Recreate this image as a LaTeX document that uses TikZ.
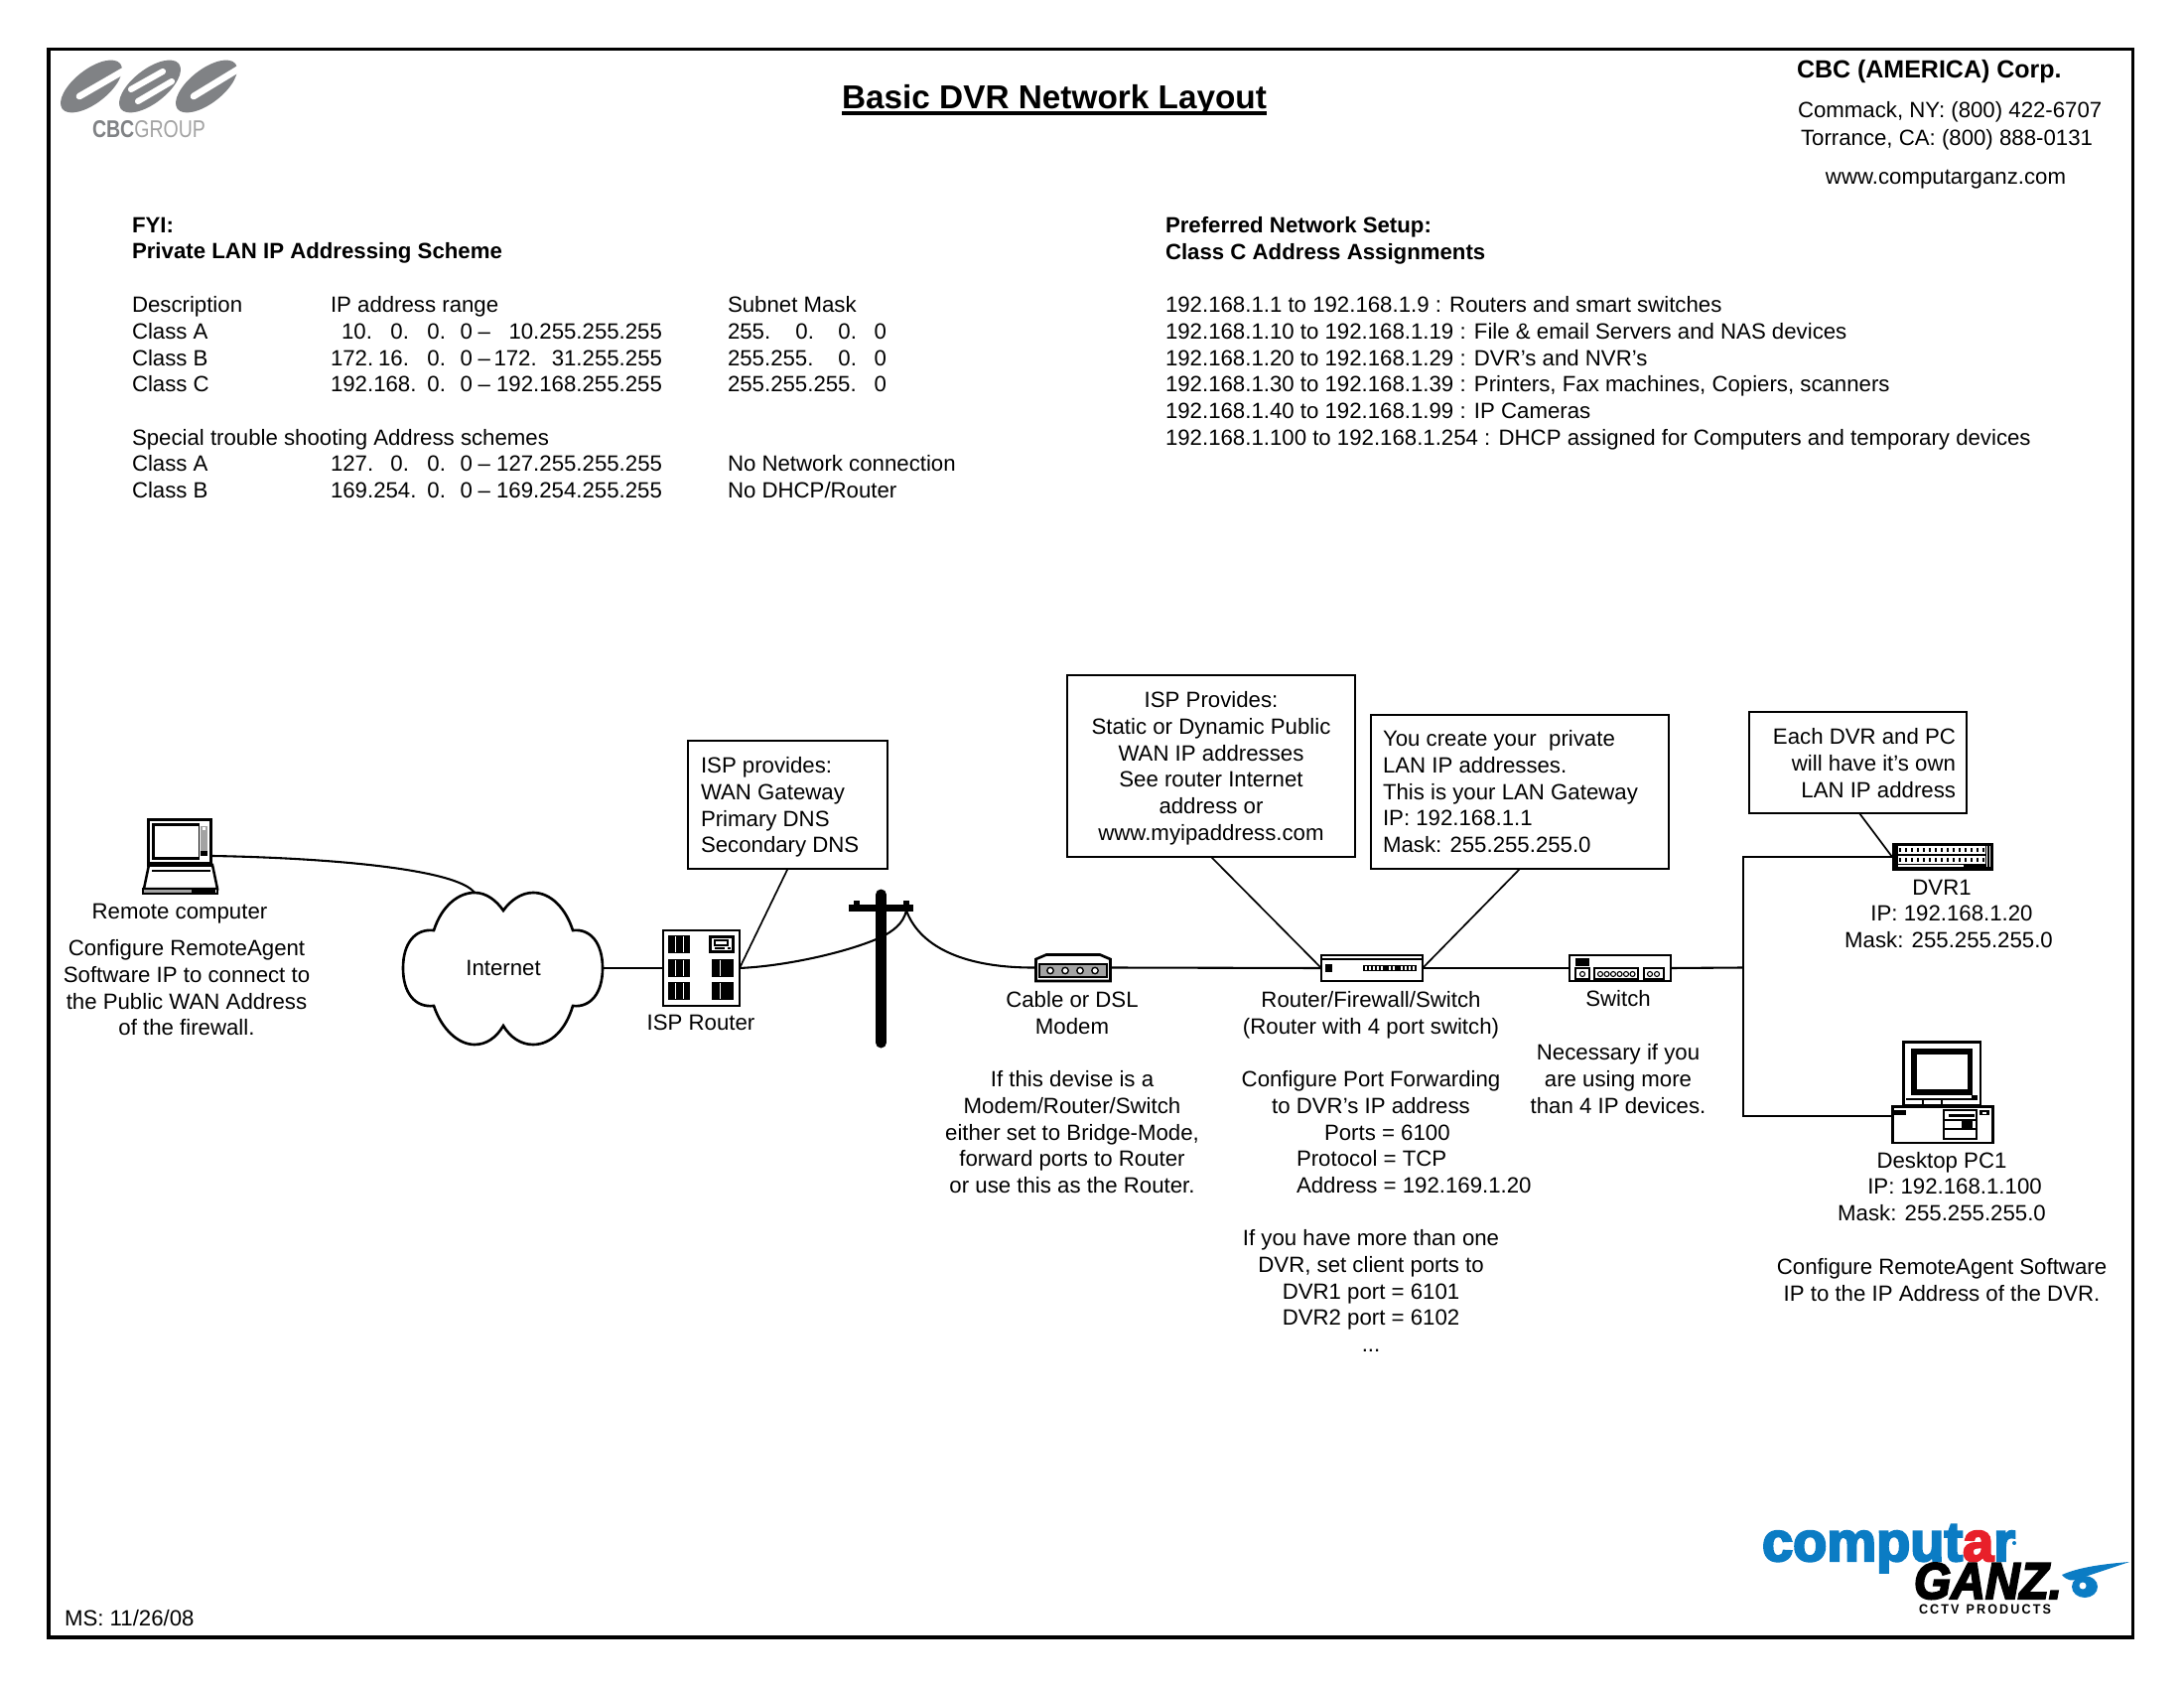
\documentclass[tikz,border=0pt]{standalone}
\usepackage{fontspec}
\usepackage{graphicx}
\setmainfont{Liberation Sans}
\newfontfamily\heavyfont[FakeBold=4]{Liberation Sans Bold}
\newfontfamily\heavyital[FakeBold=4]{Liberation Sans Bold Italic}
\newlength\pxu \setlength\pxu{0.36pt}
\newcommand\seg[2]{\makebox[#1\pxu][r]{#2}}
\newcommand\sgl[2]{\makebox[#1\pxu][l]{#2}}
\newcommand\iconbox[5]{\node[hit,minimum width=#4\pxu,minimum height=#5\pxu] (#1) at (#2,#3) {};}
\definecolor{cbcdark}{HTML}{808285}
\definecolor{cbclight}{HTML}{A3A3A3}
\definecolor{compblue}{HTML}{0B7CC4}
\definecolor{compred}{HTML}{E8202A}
\tikzset{
 x=0.36pt,y=-0.36pt,
 base font/.style={font=\fontsize{8}{9.6}\selectfont},
 tx/.style={base font,inner sep=0pt,outer sep=0pt,text=black},
 mlc/.style={tx,anchor=north,align=center,yshift=5.1pt,execute at begin node={\rule{0pt}{7pt}}},
 mll/.style={tx,anchor=north west,align=left,yshift=5.1pt,execute at begin node={\rule{0pt}{7pt}}},
 mlr/.style={tx,anchor=north east,align=right,yshift=5.1pt,execute at begin node={\rule{0pt}{7pt}}},
 smlc/.style={tx,anchor=base},
 smll/.style={tx,anchor=base west},
 hit/.style={inner sep=0pt,outer sep=0pt,rectangle},
 frameline/.style={line width=1.35pt,draw=black},
 callout/.style={line width=0.6pt,draw=black,fill=white},
 leader/.style={line width=0.6pt,draw=black},
 wire/.style={line width=0.75pt,draw=black},
 thick icon/.style={line width=0.95pt,draw=black,fill=white},
}
\begin{document}
\begin{tikzpicture}
\useasboundingbox (0,0) rectangle (2200,1700);
\fill[white] (0,0) rectangle (2200,1700);
\draw[frameline] (49,49.5) rectangle (2148.5,1649);

% CBC logo
\begin{scope}
\fill[cbcdark] (92,87) circle[x radius=37,y radius=17,rotate=38];
\fill[cbcdark] (151,87) circle[x radius=37,y radius=17,rotate=38];
\fill[cbcdark] (208,87) circle[x radius=37,y radius=17,rotate=38];
\draw[white,line width=2.4pt,line cap=round] (80,97) -- (125,71);
\draw[white,line width=2.2pt,line cap=round] (132,90) -- (164,72);
\draw[white,line width=2.2pt,line cap=round] (139,102) -- (173,82);
\draw[white,line width=2.4pt,line cap=round] (195,97) -- (241,69);
\end{scope}
\node[hit,anchor=base west] (cbcgroup) at (93,139) {\resizebox{114\pxu}{17\pxu}{\textbf{\textcolor{cbcdark}{CBC}}\textcolor{cbclight}{GROUP}}};

% Title and address
\node[hit,anchor=base,font=\fontsize{12}{14}\selectfont\bfseries] (title) at (1062,110) {Basic DVR Network Layout};
\draw[line width=1.44pt] (title.west |- 0,114) -- (title.east |- 0,114);
\node[hit,anchor=base west,font=\fontsize{9}{11}\selectfont\bfseries] (corp) at (1810,78.5) {CBC (AMERICA) Corp.};
\node[smll] (comm) at (1811,118.5) {Commack, NY: (800) 422-6707};
\node[smll] (torr) at (1814,146.5) {Torrance, CA: (800) 888-0131};
\node[smlc] (www) at (1960,185.5) {www.computarganz.com};

% Left table
\node[mll,font=\fontsize{8}{9.6}\selectfont\bfseries] (fyi) at (133,233) {FYI:\\Private LAN IP Addressing Scheme};
\node[mll] (desc) at (133,313) {Description\\Class A\\Class B\\Class C\\\mbox{}\\Special trouble shooting Address schemes\\Class A\\Class B};
\node[mll] (range) at (333,313) {IP address range\\
 \seg{42}{10.}\seg{37}{0.}\seg{37}{0.}\seg{27}{0}\seg{18}{--}\seg{173}{10.255.255.255}\\
 \sgl{43}{172.}\seg{36}{16.}\seg{37}{0.}\seg{27}{0}\seg{18}{--}\seg{173}{172.\hspace{15\pxu}31.255.255}\\
 \sgl{79}{192.168.}\seg{37}{0.}\seg{27}{0}\seg{18}{--}\seg{173}{192.168.255.255}\\
 \mbox{}\\ \mbox{}\\
 \sgl{43}{127.}\seg{36}{0.}\seg{37}{0.}\seg{27}{0}\seg{18}{--}\seg{173}{127.255.255.255}\\
 \sgl{79}{169.254.}\seg{37}{0.}\seg{27}{0}\seg{18}{--}\seg{173}{169.254.255.255}};
\node[mll] (mask) at (733,313) {Subnet Mask\\
 \sgl{43}{255.}\seg{44}{0.}\seg{43}{0.}\seg{30}{0}\\
 \sgl{87}{255.255.}\seg{43}{0.}\seg{30}{0}\\
 \sgl{130}{255.255.255.}\seg{30}{0}\\
 \mbox{}\\ \mbox{}\\
 No Network connection\\No DHCP/Router};

% Right text
\node[mll,font=\fontsize{8}{9.6}\selectfont\bfseries] (pref) at (1174,233) {Preferred Network Setup:\\Class C Address Assignments};
\node[mll] (assign) at (1174,313) {192.168.1.1 to 192.168.1.9 : Routers and smart switches\\
192.168.1.10 to 192.168.1.19 : File \& email Servers and NAS devices\\
192.168.1.20 to 192.168.1.29 : DVR’s and NVR’s\\
192.168.1.30 to 192.168.1.39 : Printers, Fax machines, Copiers, scanners\\
192.168.1.40 to 192.168.1.99 : IP Cameras\\
192.168.1.100 to 192.168.1.254 : DHCP assigned for Computers and temporary devices};

% icon anchors
\iconbox{laptop}{181}{847}{66}{47}
\iconbox{router}{706.5}{975}{77}{76}
\iconbox{modem}{1081}{974.5}{76}{27}
\iconbox{firewall}{1382}{975}{102}{26}
\iconbox{switch}{1632}{975}{102}{26}
\iconbox{dvr}{1957}{863}{102}{28}
\iconbox{pc}{1957}{1124}{102}{20}
\coordinate (cloudE) at (607,975);
\coordinate (cloudT) at (478,899);
\coordinate (polearm) at (913,917);
\coordinate (junc) at (1756,974.5);

% callouts
\node[callout,hit,minimum width=201\pxu,minimum height=129\pxu] (box1) at (793.5,810.5) {};
\node[callout,hit,minimum width=290\pxu,minimum height=183\pxu] (box2) at (1220,771.5) {};
\node[callout,hit,minimum width=300\pxu,minimum height=155\pxu] (box3) at (1531,797.5) {};
\node[callout,hit,minimum width=219\pxu,minimum height=102\pxu] (box4) at (1871.5,768) {};
\draw[leader] (box1.south) -- (router.east);
\draw[leader] (box2.south) -- (firewall.west);
\draw[leader] (box3.south) -- (firewall.east);
\draw[leader] (1873,819) -- (dvr.west);
\node[mll] (t1) at (706,777) {ISP provides:\\WAN Gateway\\Primary DNS\\Secondary DNS};
\node[mlc] (t2) at (1220,711) {ISP Provides:\\Static or Dynamic Public\\WAN IP addresses\\See router Internet\\address or\\www.myipaddress.com};
\node[mll] (t3) at (1393,750) {You create your\ \ private\\LAN IP addresses.\\This is your LAN Gateway\\IP: 192.168.1.1\\Mask: 255.255.255.0};
\node[mlr] (t4) at (1970,748) {Each DVR and PC\\will have it's own\\LAN IP address};

% wires
\draw[wire] (laptop.east |- 0,862) .. controls (330,864) and (460,875) .. (cloudT);
\draw[wire] (cloudE) -- (router.west);
\draw[wire] (router.east) .. controls (790,973) and (850,960) .. (885,945) .. controls (900,938) and (910,930) .. (polearm);
\draw[wire] (polearm) .. controls (925,950) and (965,975) .. (modem.west);
\draw[wire] (modem.east) -- (firewall.west);
\draw[wire] (firewall.east) -- (switch.west);
\draw[wire] (switch.east) -- (junc);
\draw[wire] (dvr.west) -| (junc) |- (pc.west);

% cloud
\draw[line width=0.95pt,fill=white] (437,937) .. controls (445,912) and (462,899) .. (478,899) .. controls (490,899) and (500,907) .. (507,917)
 .. controls (514,907) and (525,899) .. (537,899) .. controls (555,899) and (570,915) .. (577,937)
 .. controls (595,935) and (607,950) .. (607,975) .. controls (607,1000) and (595,1015) .. (577,1013)
 .. controls (570,1037) and (555,1052) .. (537,1052) .. controls (525,1052) and (514,1045) .. (507,1033)
 .. controls (500,1045) and (490,1052) .. (478,1052) .. controls (462,1052) and (445,1037) .. (437,1013)
 .. controls (418,1015) and (406,1000) .. (406,975) .. controls (406,950) and (418,935) .. (437,937) -- cycle;
\node[tx] (internet) at (507,975) {Internet};

% laptop
\fill[white,draw=black,line width=0.9pt] (150,871) -- (214,871) -- (219,895) -- (145,895) -- cycle;
\draw[line width=0.6pt] (153,877) -- (212,877);
\fill (143,894) rectangle (220,901);
\fill[cbclight] (145,896) rectangle (193,899);
\fill[white] (217,896) rectangle (218,899);
\fill (148,824) rectangle (214,873);
\fill[white] (151,827) rectangle (211,868);
\fill (153,829) rectangle (201,866);
\fill[white] (156,832) rectangle (200,863);
\fill[cbclight] (202,832) rectangle (209,857);
\fill (202,857) rectangle (209,862);
\fill[white] (204,833) rectangle (207,836);

% router
\draw[thick icon] (router.south west) rectangle (router.north east);
\foreach \yy in {942,966,989}{
  \fill (673,\yy) rectangle (695,\yy+18);
  \foreach \xx in {680,688}{\draw[white,line width=0.12pt] (\xx,\yy+1) -- (\xx,\yy+17);}
}
\foreach \yy in {966,989}{
  \fill (717,\yy) rectangle (739,\yy+18);
  \draw[white,line width=0.2pt] (725,\yy+1) -- (725,\yy+17);
}
\fill (714,942) rectangle (740,960);
\fill[white] (717,945) rectangle (737,957);
\draw[line width=0.4pt] (720,947) rectangle (733,952);
\fill (720,954) rectangle (730,956);
\fill (733,954) rectangle (736,956);

% pole
\draw[line width=3.96pt,line cap=round] (887.5,901) -- (887.5,1050);
\fill (855,911) rectangle (920,918);
\fill (860,907) rectangle (866,911);
\fill (910,907) rectangle (916,911);

% modem
\draw[thick icon] (1043.5,988) -- (1043.5,966) -- (1054,961.5) -- (1108,961.5) -- (1118.5,966) -- (1118.5,988) -- cycle;
\draw[line width=0.5pt,fill=cbclight] (1047,971) rectangle (1115,984);
\foreach \xx in {1058,1073,1088,1103}{\draw[line width=0.5pt,fill=white] (\xx,977.5) circle[radius=3.2];}

% firewall router
\draw[thick icon] (firewall.south west) rectangle (firewall.north east);
\draw[line width=0.5pt] (1331,966) -- (1433,966);
\fill (1335,971) rectangle (1342,979);
\fill (1373,972) rectangle (1427,978);
\foreach \xx in {1376,1380,1384,1388,1392,1400,1404,1412,1416,1420,1424}{\draw[white,line width=0.4pt] (\xx,973) -- (\xx,977);}

% switch
\draw[thick icon] (switch.south west) rectangle (switch.north east);
\fill (1587,965) rectangle (1601,973);
\draw[line width=0.4pt] (1587,975) rectangle (1601,986);
\draw[line width=0.4pt] (1606,975) rectangle (1650,986);
\draw[line width=0.4pt] (1656,975) rectangle (1676,986);
\draw[line width=0.4pt] (1594,981) circle[radius=2.5];
\foreach \xx in {1612,1618.5,1625,1631.5,1638,1644.5}{\draw[line width=0.4pt] (\xx,981) circle[radius=2.5];}
\foreach \xx in {1662,1669}{\draw[line width=0.4pt] (\xx,981) circle[radius=2.5];}

% DVR
\fill (dvr.south west) rectangle (dvr.north east);
\fill[white] (1912,852) rectangle (2000,860);
\fill[white] (1912,862) rectangle (2000,870);
\fill[white] (1912,871) rectangle (1978,873);
\fill[white] (2001,852) rectangle (2005,873);
\draw[line width=0.4pt] (2003,852) -- (2003,873);
\foreach \xx in {1914,1920,...,1998}{
  \fill (\xx-1,854) rectangle (\xx+1,858);
  \fill (\xx-1,864) rectangle (\xx+1,868);
}
\foreach \xx in {1984,1990}{\draw[line width=0.35pt] (\xx,871) -- (\xx,875);}

% PC
\draw[line width=0.8pt,fill=white] (1917.5,1049.5) rectangle (1995,1113);
\fill (1925,1056) rectangle (1987,1103);
\fill[white] (1931,1062) rectangle (1982,1097);
\draw[line width=0.4pt] (1920,1107) -- (1992,1107);
\draw[line width=0.4pt] (1937,1107) -- (1937,1113) (1956,1107) -- (1956,1113);
\fill (1986,1103) rectangle (1992,1106);
\fill (1925,1113) rectangle (1930,1115);
\fill (1982,1113) rectangle (1987,1115);
\draw[thick icon] (1906.5,1114.5) rectangle (2007.5,1151);
\fill (1908,1118) rectangle (1920,1123);
\fill (1994,1118) rectangle (2004,1123);
\fill[white] (1997,1119.5) rectangle (2001,1122);
\draw[line width=0.5pt] (1958,1118) rectangle (1991,1147);
\fill (1963,1122) rectangle (1989,1125);
\draw[line width=0.4pt] (1958,1128) -- (1991,1128) (1958,1137) -- (1991,1137);
\fill (1976,1129) rectangle (1987,1136);

% labels
\node[smlc] (l1) at (181,926) {Remote computer};
\node[mlc] (l2) at (188,961) {Configure RemoteAgent\\Software IP to connect to\\the Public WAN Address\\of the firewall.};
\node[smlc] (l3) at (706,1037) {ISP Router};
\node[mlc] (l4) at (1080,1013) {Cable or DSL\\Modem};
\node[mlc] (l5) at (1080,1093) {If this devise is a\\Modem/Router/Switch\\either set to Bridge-Mode,\\forward ports to Router\\or use this as the Router.};
\node[mlc] (l6) at (1381,1013) {Router/Firewall/Switch\\(Router with 4 port switch)};
\node[mll] (l7) at (1250,1093) {\makebox[262\pxu][c]{Configure Port Forwarding}\\\makebox[262\pxu][c]{to DVR’s IP address}\\\hspace*{84\pxu}Ports = 6100\\\hspace*{56\pxu}Protocol = TCP\\\hspace*{56\pxu}Address = 192.169.1.20};
\node[mlc] (l10) at (1381,1253) {If you have more than one\\DVR, set client ports to\\DVR1 port = 6101\\DVR2 port = 6102\\...};
\node[smlc] (l11) at (1630,1013) {Switch};
\node[mlc] (l12) at (1630,1066) {Necessary if you\\are using more\\than 4 IP devices.};
\node[smlc] (l13) at (1956,901) {DVR1};
\node[smlc] (l14) at (1966,927.5) {IP: 192.168.1.20};
\node[smlc] (l15) at (1963,954) {Mask: 255.255.255.0};
\node[smlc] (l16) at (1956,1176) {Desktop PC1};
\node[smlc] (l17) at (1969,1202.5) {IP: 192.168.1.100};
\node[smlc] (l18) at (1956,1229) {Mask: 255.255.255.0};
\node[mlc] (l19) at (1956,1282) {Configure RemoteAgent Software\\IP to the IP Address of the DVR.};
\node[smll] (l20) at (65,1637) {MS: 11/26/08};

% computar / Ganz logo
\node[hit,anchor=base west] (comput) at (1775,1572) {\resizebox{255\pxu}{!}{\fontsize{20}{22}\selectfont\heavyfont\textcolor{compblue}{comput}\textcolor{compred}{a}\textcolor{compblue}{r}}};
\fill[compblue] (2029,1554) circle[radius=2];
\node[hit,anchor=base west] (ganz) at (1928,1610) {\resizebox{149\pxu}{36\pxu}{\fontsize{20}{22}\selectfont\heavyital GANZ.}};
\node[hit,anchor=base west] (cctv) at (1933,1625) {\resizebox{133\pxu}{9.5\pxu}{\fontsize{6}{7}\selectfont\bfseries C\,C\,T\,V\ \ P\,R\,O\,D\,U\,C\,T\,S}};
\fill[compblue] (2145,1573) .. controls (2120,1575) and (2095,1578) .. (2077,1586) .. controls (2082,1592) and (2088,1593) .. (2094,1590) .. controls (2112,1584) and (2130,1578) .. (2145,1573) -- cycle;
\fill[compblue] (2100,1598) circle[x radius=13,y radius=11];
\fill[white] (2098,1597) circle[radius=3.5];
\end{tikzpicture}
\end{document}
